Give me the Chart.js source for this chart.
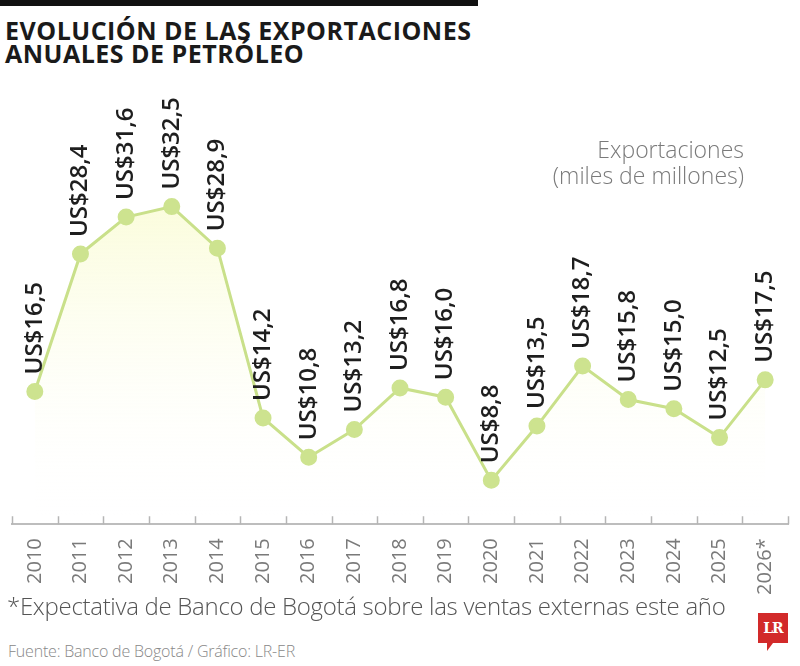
<!DOCTYPE html>
<html lang="es">
<head>
<meta charset="utf-8">
<title>Evolución de las exportaciones anuales de petróleo</title>
<script src="https://cdn.jsdelivr.net/npm/chart.js@4.4.1/dist/chart.umd.min.js"></script>
<style>
  html, body { margin: 0; padding: 0; background: #fff; }
  body { width: 800px; height: 666px; position: relative; overflow: hidden; font-family: "Open Sans", sans-serif; }
  #topbar { position: absolute; left: 0; top: 0; width: 478px; height: 6px; background: #111; }
  #title { position: absolute; left: 5px; top: 19px; font-weight: 700; font-size: 25px; line-height: 23px; color: #1a1a1a; letter-spacing: 0.5px; }
  #unit { position: absolute; right: 56px; top: 136px; text-align: right; font-size: 23px; line-height: 26px; color: #7a7a7a; font-weight: 300; }
  #note { position: absolute; left: 7px; top: 589px; font-size: 24px; color: #555; font-weight: 300; letter-spacing: -0.3px; }
  #source { position: absolute; left: 8px; top: 640px; font-size: 16px; color: #888; font-weight: 300; letter-spacing: -0.2px; }
  #logo { position: absolute; left: 758px; top: 613px; width: 30px; height: 30px; background: #d22a2a; color: #fff;
          font-family: "DejaVu Serif", serif; font-weight: 700; font-size: 14px; line-height: 30px; text-align: center; letter-spacing: -1px; }
  #logo:after { content: ""; position: absolute; left: 9px; top: 30px; border-left: 6px solid #d22a2a; border-bottom: 8px solid transparent; }
  #chart { position: absolute; left: 0; top: 0; }
</style>
</head>
<body>
<div id="topbar"></div>
<div id="title">EVOLUCIÓN DE LAS EXPORTACIONES<br>ANUALES DE PETRÓLEO</div>
<canvas id="chart" width="800" height="626"></canvas>
<div id="unit">Exportaciones<br>(miles de millones)</div>
<div id="note">*Expectativa de Banco de Bogotá sobre las ventas externas este año</div>
<div id="source">Fuente: Banco de Bogotá / Gráfico: LR-ER</div>
<div id="logo">LR</div>

<script>
const years = ['2010', '2011', '2012', '2013', '2014', '2015', '2016', '2017', '2018',
               '2019', '2020', '2021', '2022', '2023', '2024', '2025', '2026*'];
const exports = [16.5, 28.4, 31.6, 32.5, 28.9, 14.2, 10.8, 13.2, 16.8,
                 16.0, 8.8, 13.5, 18.7, 15.8, 15.0, 12.5, 17.5];
const yMin = 5;
const yMax = 40;

function usd(v) {
    return 'US$' + v.toFixed(1).replace('.', ',');
}

// rotated value labels above each point
const valueLabels = {
    id: 'valueLabels',
    afterDatasetsDraw(chart) {
        const ctx = chart.ctx;
        const meta = chart.getDatasetMeta(0);
        ctx.save();
        ctx.font = '600 24px "Open Sans"';
        ctx.fillStyle = '#1e1e1e';
        ctx.textAlign = 'left';
        ctx.textBaseline = 'middle';
        meta.data.forEach((pt, i) => {
            ctx.save();
            ctx.translate(pt.x, pt.y - 17);
            ctx.rotate(-Math.PI / 2);
            ctx.fillText(usd(exports[i]), 0, 0);
            ctx.restore();
        });
        ctx.restore();
    }
};

// short upward ticks between categories
const upTicks = {
    id: 'upTicks',
    afterDraw(chart) {
        const x = chart.scales.x;
        const ctx = chart.ctx;
        const step = x.width / years.length;
        ctx.save();
        ctx.strokeStyle = '#b5b5b5';
        ctx.lineWidth = 1.5;
        for (let i = 0; i <= years.length; i++) {
            const px = Math.round(x.left + i * step) + 0.5;
            ctx.beginPath();
            ctx.moveTo(px, x.top);
            ctx.lineTo(px, x.top - 8);
            ctx.stroke();
        }
        ctx.restore();
    }
};

new Chart(document.getElementById('chart').getContext('2d'), {
    type: 'line',
    data: {
        labels: years,
        datasets: [{
            data: exports,
            borderColor: '#c9e08a',
            borderWidth: 3,
            pointBackgroundColor: '#cde38f',
            pointBorderColor: '#cde38f',
            pointRadius: 7,
            tension: 0,
            fill: 'start',
            backgroundColor(context) {
                const area = context.chart.chartArea;
                if (!area) return 'rgba(250,252,225,0.6)';
                const g = context.chart.ctx.createLinearGradient(0, area.top + 80, 0, area.bottom);
                g.addColorStop(0, 'rgba(250,252,215,0.9)');
                g.addColorStop(1, 'rgba(255,255,255,0)');
                return g;
            }
        }]
    },
    options: {
        responsive: false,
        animation: false,
        layout: {
            padding: { top: 120, left: 12, right: 12, bottom: 25 }
        },
        plugins: {
            legend: { display: false },
            title: { display: false },
            tooltip: { enabled: false }
        },
        scales: {
            x: {
                offset: true,
                grid: { display: false },
                border: { display: true, color: '#bdbdbd', width: 2 },
                ticks: {
                    minRotation: 90,
                    maxRotation: 90,
                    padding: 6,
                    color: '#7a7a7a',
                    font: { family: 'Open Sans', size: 20 }
                }
            },
            y: {
                display: false,
                min: yMin,
                max: yMax
            }
        }
    },
    plugins: [valueLabels, upTicks]
});
</script>
</body>
</html>
